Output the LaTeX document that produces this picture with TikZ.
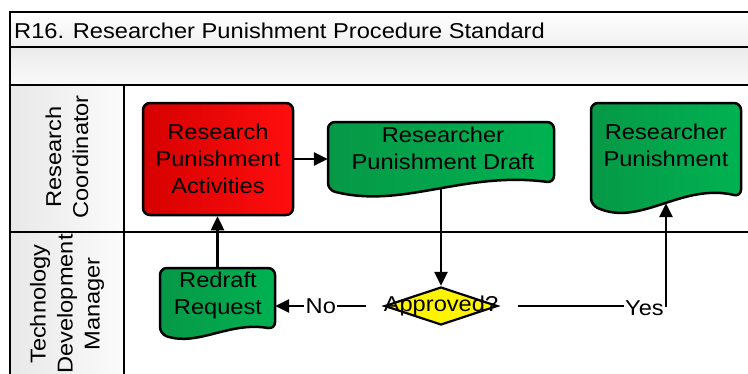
\documentclass[tikz,border=0pt]{standalone}
\usepackage{fontspec}
\setmainfont[FakeStretch=1.1]{Liberation Sans}
\usetikzlibrary{arrows.meta,shapes.geometric,calc}

\definecolor{redA}{RGB}{214,0,0}
\definecolor{redB}{RGB}{255,14,14}
\definecolor{grnA}{RGB}{6,152,70}
\definecolor{grnB}{RGB}{0,178,82}
\definecolor{yel}{RGB}{255,244,0}

% document shape: left x, right x, top y, bottom base y, wave amplitude
\newcommand\docpath[5]{(#1,{(#3+#4)/2}) -- (#1,#3) -- (#2,#3) -- (#2,{#4-0.6*#5})
  .. controls ({#1+0.6*(#2-#1)},{#4-1.6*#5}) and ({#1+0.33*(#2-#1)},{#4+1.6*#5}) .. (#1,#4) -- cycle}

\tikzset{
  lane/.style={draw=black, line width=2.8pt},
  box/.style={draw=black, line width=2.5pt, rounded corners=7pt},
  redfill/.style={left color=redA, right color=redB},
  grnfill/.style={left color=grnA, right color=grnB},
  txt/.style={align=center, font=\fontsize{21.5}{27}\selectfont, inner sep=0pt},
  docbody/.style 2 args={inner sep=0pt, minimum width=#1, minimum height=#2},
  decision/.style={diamond, draw=black, line width=2.2pt, fill=yel,
    minimum width=113pt, minimum height=38pt, inner sep=0pt},
  conn/.style={line width=2.5pt, -{Triangle[length=14pt,width=13pt]}},
  tag/.style={font=\fontsize{21.5}{27}\selectfont, fill=white, inner sep=1.5pt},
}

\begin{document}
\begin{tikzpicture}[x=1pt,y=-1pt]
\useasboundingbox (0,0) rectangle (748,373);
\clip (0,0) rectangle (748,373);

% pool frame
\path[top color=white, bottom color=gray!12] (10,12) rectangle (780,47);
\path[top color=gray!16, bottom color=gray!4] (10,47) rectangle (780,85);
\path[left color=gray!18, right color=gray!3] (10,85) rectangle (124,400);
\draw[lane] (780,12) -- (10,12) -- (10,400);
\draw[lane] (10,47) -- (780,47);
\draw[lane] (10,85) -- (780,85);
\draw[lane] (10,232) -- (780,232);
\draw[lane] (124,85) -- (124,400);

\node[txt, anchor=west] (title) at (14,31) {R16. Researcher Punishment Procedure Standard};
\node[txt, rotate=90] (lane1) at (67,157) {Research\\Coordinator};
\node[txt, rotate=90] (lane2) at (67,304) {Technology\\Development\\Manager};

% activities and documents
\node[box, redfill, txt, minimum width=150pt, minimum height=112pt] (red) at (218,159)
  {Research\\Punishment\\Activities};

\path[box, grnfill] \docpath{328}{554}{122}{190}{12};
\node[docbody={226pt}{67pt}] (draftbox) at (441,155.5) {};
\node[txt] (draft) at (443,148) {Researcher\\Punishment Draft};

\path[box, grnfill] \docpath{591}{741}{103}{205}{14};
\node[docbody={150pt}{100pt}] (rpbox) at (666,153) {};
\node[txt] (rp) at (666,145) {Researcher\\Punishment};

\path[box, grnfill] \docpath{160}{275}{268}{334}{8};
\node[docbody={115pt}{66pt}] (redraftbox) at (217.5,301) {};
\node[txt] (redraft) at (218,295) {Redraft\\Request};

\node[decision] (appr) at (441,306) {};
\node[txt] (apprtext) at (appr) {Approved?};

\coordinate (nostart) at ($(appr.west)+(-17,0)$);
\coordinate (yesstart) at ($(appr.east)+(19,0)$);

% flow
\draw[conn] (red.east) -- (red.east -| draftbox.west);
\draw[conn] (draftbox.south) -- (appr.north);
\draw[conn] (nostart) -- node[tag] {No} (redraftbox.east |- appr);
\draw[conn] (redraftbox.north) -- (redraftbox.north |- red.south);
\draw[conn] (yesstart) -- (rpbox.south |- appr)
  node[tag, anchor=east, yshift=-2pt, inner sep=1pt] {Yes} -- (rpbox.south);
\end{tikzpicture}
\end{document}
